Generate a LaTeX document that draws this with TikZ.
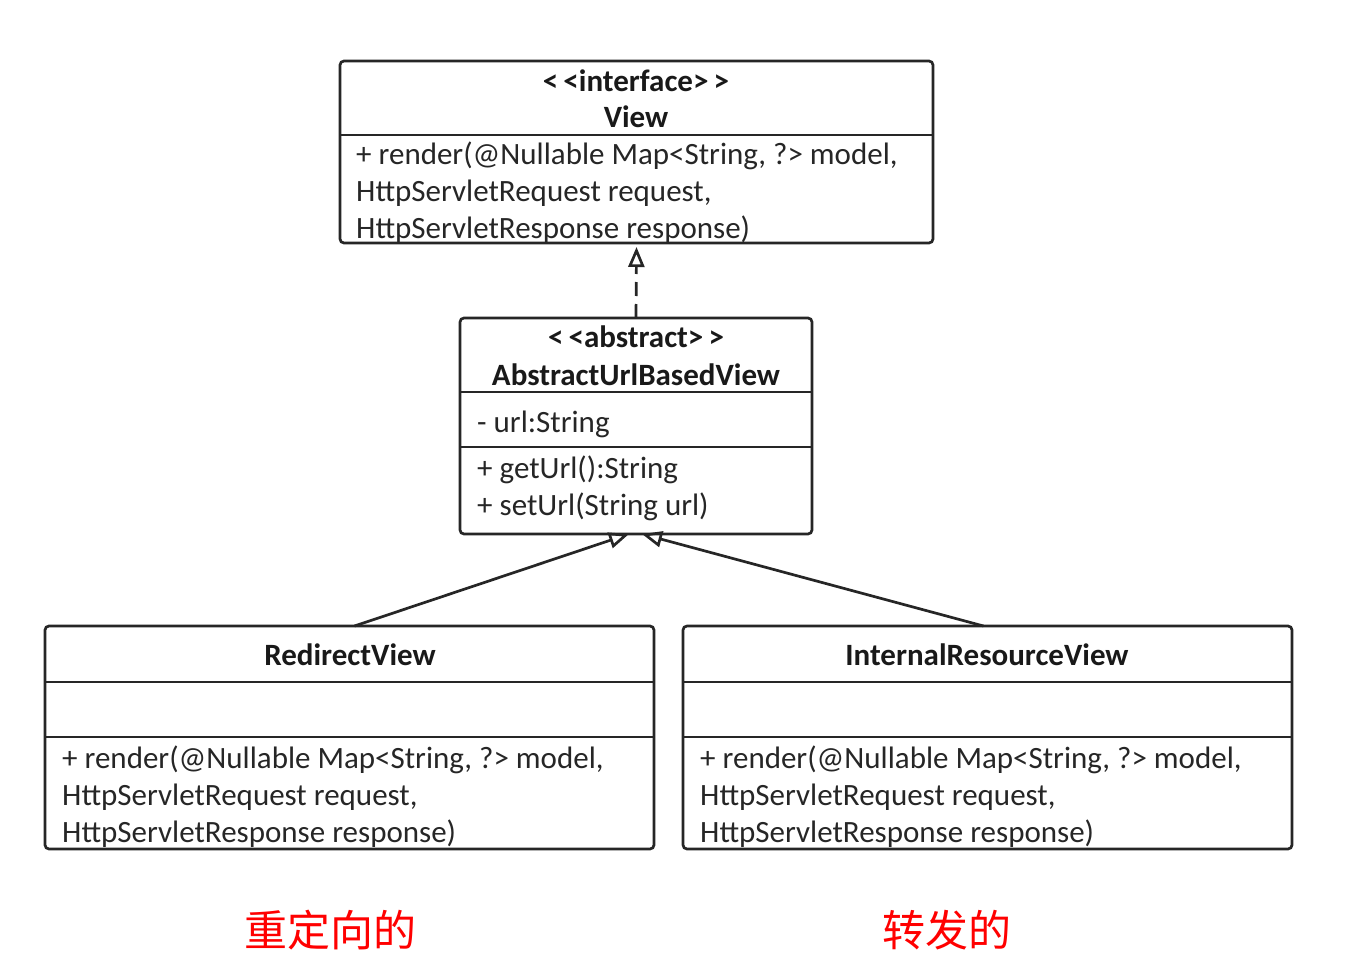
\documentclass[tikz,border=0pt]{standalone}
\usepackage{fontspec}
\setmainfont{Carlito}
\newfontfamily\cjk{Noto Sans CJK SC}
\usetikzlibrary{arrows.meta,positioning}

\begin{document}
\begin{tikzpicture}[x=1pt, y=-1pt,
    every node/.style={font=\fontsize{31}{37}\selectfont, inner sep=0pt},
    classbox/.style={draw=black!85, line width=2.7pt, rounded corners=4pt, outer sep=0pt},
    title/.style={anchor=base, font=\fontsize{31}{37}\selectfont\bfseries, text=black!90},
    member/.style={anchor=base west, text=black!85},
    sep/.style={draw=black!85, line width=2.7pt},
    inh/.style={draw=black!85, line width=2.7pt, -{Triangle[open, length=20pt, width=16pt]}},
    impl/.style={inh, dash pattern=on 14pt off 8pt},
    note/.style={font=\fontsize{43}{43}\selectfont\cjk, text=red}]
    \useasboundingbox (0,0) rectangle (1352,976);

    % class boxes
    \node[classbox, minimum width=593pt, minimum height=182pt] (view) at (636.5,152) {};
    \node[classbox, minimum width=352pt, minimum height=216pt] (abs) at (636,426) {};
    \node[classbox, minimum width=609pt, minimum height=223pt] (redir) at (349.5,737.5) {};
    \node[classbox, minimum width=609pt, minimum height=223pt] (intres) at (987.5,737.5) {};

    % compartments
    \draw[sep] (view.west |- 0,135) -- (view.east |- 0,135);
    \foreach \y in {392,447} {
        \draw[sep] (abs.west |- 0,\y) -- (abs.east |- 0,\y);
    }
    \foreach \y in {682,737} {
        \draw[sep] (redir.west |- 0,\y) -- (redir.east |- 0,\y);
        \draw[sep] (intres.west |- 0,\y) -- (intres.east |- 0,\y);
    }

    % names
    \node[title] (viewst) at (636,92) {<\,<interface>\,>};
    \node[title] (viewname) at (636,128) {View};
    \node[title] (absst) at (636,348) {<\,<abstract>\,>};
    \node[title] (absname) at (636,385) {AbstractUrlBasedView};
    \node[title] (redirname) at (350,665) {RedirectView};
    \node[title] (intresname) at (987,665) {InternalResourceView};

    % members
    \node[member] (absattr) at (477,432) {- url:String};
    \node[member] (absget) at (477,478) {+ getUrl():String};
    \node[member] (absset) at (477,515) {+ setUrl(String url)};

    \foreach \bx/\by/\bn in {356/165/view, 62/768/redir, 700/768/intres} {
        \node[member] (\bn-op1) at (\bx,\by) {+ render(@Nullable Map<String, ?> model,};
        \node[member] (\bn-op2) at (\bx,\by+37) {HttpServletRequest request,};
        \node[member] (\bn-op3) at (\bx,\by+74) {HttpServletResponse response)};
    }

    % relations
    \draw[impl] (abs.north) -- ([yshift=-4pt]view.south);
    \draw[inh] ([xshift=5pt]redir.north) -- ([xshift=-7pt]abs.south);
    \draw[inh] ([xshift=-4pt]intres.north) -- ([xshift=6pt]abs.south);

    % notes
    \node[note] (redirnote) at (330,930) {重定向的};
    \node[note] (intresnote) at (947,930) {转发的};
\end{tikzpicture}
\end{document}
